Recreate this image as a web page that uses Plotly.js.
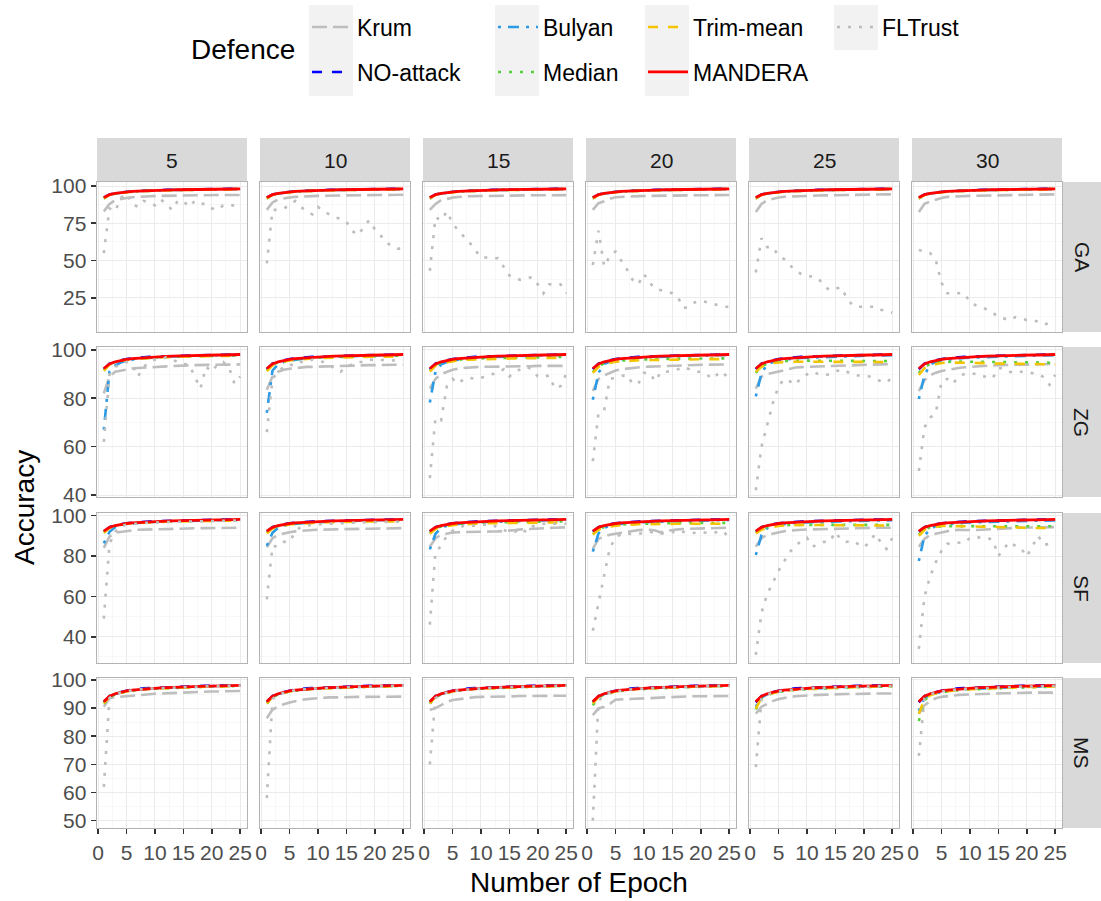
<!DOCTYPE html>
<html><head><meta charset="utf-8">
<script src="https://cdn.plot.ly/plotly-3.0.1.min.js"></script>
<style>html,body{margin:0;padding:0;background:#fff}#chart{width:1101px;height:901px}</style>
</head><body><div id="chart"></div>
<script>
// ---------------- DATA ----------------
const epochs = [1,2,3,4,5,6,7,8,9,10,11,12,13,14,15,16,17,18,19,20,21,22,23,24,25];
const attacks = ['GA','ZG','SF','MS'];
const attackerCounts = ['5','10','15','20','25','30'];
const defences = ['Krum','NO-attack','Bulyan','Median','Trim-mean','MANDERA','FLTrust'];

const noAttack = [92.0,94.3,95.2,95.8,96.2,96.5,96.8,97.0,97.1,97.2,97.3,97.4,97.5,97.6,97.6,97.7,97.8,97.8,97.9,97.9,98.0,98.0,98.1,98.1,98.2];
const mandera  = [92.3,94.2,95.1,95.7,96.1,96.4,96.6,96.8,97.0,97.1,97.2,97.3,97.4,97.5,97.5,97.6,97.7,97.7,97.8,97.8,97.9,97.9,98.0,98.0,98.1];
const bulyanTop = [91.8,94.1,95.0,95.6,96.0,96.3,96.6,96.8,96.9,97.0,97.1,97.2,97.3,97.4,97.5,97.5,97.6,97.7,97.7,97.8,97.8,97.9,97.9,98.0,98.0];
const medianTop = [91.6,93.9,94.9,95.5,95.9,96.2,96.5,96.7,96.8,96.9,97.0,97.1,97.2,97.3,97.4,97.4,97.5,97.6,97.6,97.7,97.7,97.8,97.8,97.9,97.9];
const trimTop   = [91.7,94.0,95.0,95.5,95.9,96.2,96.5,96.7,96.8,96.9,97.0,97.1,97.2,97.3,97.3,97.4,97.5,97.5,97.6,97.7,97.7,97.8,97.8,97.8,97.9];

// GA
const krumGA = [
 [83.0,88.0,90.5,91.5,92.0,92.5,92.8,93.0,93.2,93.3,93.4,93.5,93.6,93.7,93.7,93.8,93.8,93.9,93.9,94.0,94.0,94.0,94.0,94.0,94.0],
 [84.0,89.0,91.0,91.8,92.3,92.7,93.0,93.2,93.3,93.4,93.5,93.6,93.6,93.7,93.7,93.8,93.8,93.9,93.9,94.0,94.0,94.0,94.1,94.1,94.1],
 [84.0,88.0,90.5,91.5,92.2,92.6,93.0,93.1,93.2,93.3,93.3,93.4,93.5,93.5,93.6,93.6,93.7,93.7,93.8,93.8,93.8,93.8,93.9,93.9,93.9],
 [84.0,88.5,89.7,91.5,92.5,92.8,93.0,93.1,93.2,93.3,93.4,93.5,93.5,93.6,93.6,93.7,93.7,93.8,93.8,93.8,93.9,93.9,93.9,94.0,94.0],
 [82.5,88.0,90.5,91.5,92.3,92.8,93.0,93.2,93.3,93.4,93.5,93.6,93.7,93.8,93.8,93.9,94.0,94.0,94.1,94.2,94.2,94.3,94.3,94.4,94.4],
 [82.5,88.0,89.7,91.0,92.0,92.7,93.0,93.2,93.3,93.4,93.5,93.6,93.7,93.8,93.8,93.9,94.0,94.0,94.1,94.2,94.2,94.3,94.3,94.4,94.4]
];
const fltrustGA = [
 [55,85,83,92,95,88,86,90,89,87,91,88,84,90,90,86,90,88,88,85,84,87,87,87,88],
 [48,84,84,85,87,90,86,83,81,86,83,81,79,78,76,70,67,72,77,71,67,62,60,58,58],
 [43,79,77,83,75,70,66,62,57,52,52,51.5,51.6,46,40,38,37,38,38.8,34,28,34,34,34,28],
 [47,70,46,53,56,50,44,37,34,41,35,31,30,29,28,25,18,19,22,23,22,21,20,19,19],
 [42,65,59,59,53,51,47,43,41,40,39,38,33,30,31,32,25,20,19,19,19,19,17,16,15],
 [57,56,55,50,35,28,28,28,28,22,20,19,17,15,12,11,10,12,11,10,10,9,7,8,9]
];
const bulyanGA = [bulyanTop,bulyanTop,bulyanTop,bulyanTop,bulyanTop,bulyanTop];
const medianGA = [medianTop,medianTop,medianTop,medianTop,medianTop,medianTop];
const trimGA   = [trimTop,trimTop,trimTop,trimTop,trimTop,trimTop];

// ZG
const krumZG = [
 [82.0,89.0,91.0,91.5,92.0,92.3,92.5,92.7,92.8,93.0,93.0,93.2,93.3,93.5,93.5,93.6,93.7,93.7,93.8,93.8,94.0,94.0,94.0,94.0,94.0],
 [83.5,89.0,91.0,91.8,92.2,92.5,92.8,93.0,93.0,93.1,93.2,93.3,93.3,93.4,93.5,93.5,93.6,93.6,93.7,93.7,93.8,93.8,93.8,93.9,93.9],
 [84.0,88.0,90.0,91.0,91.8,92.3,92.6,92.8,92.9,93.0,93.0,93.1,93.1,93.2,93.2,93.3,93.3,93.3,93.3,93.4,93.4,93.4,93.4,93.4,93.4],
 [83.0,88.0,89.5,90.5,91.5,92.0,92.3,92.6,92.8,93.0,93.1,93.2,93.3,93.3,93.4,93.5,93.6,93.7,93.8,93.8,93.9,93.9,94.0,94.0,94.0],
 [84.0,89.0,90.0,90.6,91.0,91.8,92.4,92.7,92.9,93.0,93.1,93.2,93.3,93.4,93.5,93.6,93.7,93.8,93.8,93.9,94.0,94.0,94.1,94.1,94.2],
 [83.0,87.5,89.5,90.6,91.3,91.8,92.2,92.5,92.8,93.0,93.3,93.4,93.5,93.6,93.7,93.8,93.8,93.8,93.9,93.9,94.0,94.0,94.1,94.1,94.2]
];
const fltrustZG = [
 [62,90,93,94,95,94,89,93,95,96,96,97,96,95,94,94,89,84,93,91,94,95,93,86,89],
 [66,88,91,93,94,93.4,95,95,96,95.5,95,94,92,91,93,94,95,95,96,95.8,96,95.5,95.5,95.7,95.8],
 [47,72,71,85,88,86,88,88.5,88,88.5,89,90,90.4,92,89,91,92,93,92,89,89,89.4,84,85,90],
 [54,74,75,88,88.6,89,89.7,86,86,90.5,90.5,87,91,91,91.6,92,93,92,91,91,90,88,90,91,86.5],
 [42,60,69,78,85,88,87,85.6,88.7,90,91,90,89.4,90,91,92,91,90,89.4,89.4,89,88.3,87,86.5,88.7],
 [50,68,72,74,87,88,86,89,90,90.4,90,89,89,88.3,92.4,92.4,91,90.4,91,91,90.4,90,88.7,85.6,89.7]
];
const bulyanZG = [
 [67.0,91.0,93.5,94.8,95.5,96.0,96.4,96.6,96.8,97.0,97.1,97.2,97.3,97.4,97.4,97.5,97.6,97.6,97.7,97.7,97.8,97.8,97.9,97.9,98.0],
 [74.0,91.5,94.0,95.0,95.6,96.0,96.3,96.6,96.8,97.0,97.1,97.2,97.3,97.3,97.4,97.5,97.5,97.6,97.7,97.7,97.8,97.8,97.9,97.9,97.9],
 [78.3,91.0,94.0,95.0,95.6,96.0,96.4,96.6,96.8,96.9,97.0,97.1,97.2,97.3,97.4,97.5,97.6,97.6,97.7,97.7,97.8,97.8,97.9,97.9,98.0],
 [79.4,90.5,94.2,95.2,95.7,96.1,96.4,96.6,96.8,96.9,97.0,97.1,97.2,97.3,97.4,97.5,97.5,97.6,97.6,97.7,97.7,97.8,97.8,97.9,97.9],
 [80.8,90.5,94.0,95.0,95.6,96.0,96.3,96.5,96.7,96.8,96.9,97.0,97.1,97.2,97.3,97.4,97.4,97.5,97.5,97.6,97.6,97.7,97.7,97.8,97.8],
 [79.7,89.5,94.0,95.0,95.6,96.0,96.3,96.5,96.7,96.8,96.9,97.0,97.1,97.2,97.3,97.4,97.4,97.5,97.5,97.6,97.6,97.7,97.7,97.8,97.8]
];
const medianZG = [
 [91.5,94.0,95.0,95.6,96.0,96.3,96.5,96.7,96.8,96.9,97.0,97.1,97.2,97.2,97.3,97.3,97.4,97.4,97.5,97.5,97.5,97.6,97.6,97.6,97.7],
 [91.3,93.8,94.8,95.4,95.8,96.1,96.4,96.6,96.7,96.8,96.9,97.0,97.1,97.1,97.2,97.3,97.3,97.4,97.4,97.4,97.5,97.5,97.5,97.6,97.6],
 [91.2,93.7,94.7,95.2,95.6,95.9,96.1,96.3,96.4,96.5,96.6,96.6,96.7,96.7,96.8,96.8,96.8,96.9,96.9,96.9,97.0,97.0,97.0,97.0,97.1],
 [90.8,93.3,94.4,95.0,95.3,95.6,95.8,95.9,96.0,96.1,96.1,96.2,96.2,96.3,96.3,96.3,96.4,96.4,96.4,96.4,96.5,96.5,96.5,96.5,96.5],
 [90.5,93.2,94.3,94.9,95.2,95.4,95.5,95.5,95.6,95.6,95.6,95.5,95.5,95.5,95.5,95.5,95.5,95.5,95.5,95.4,95.4,95.4,95.4,95.4,95.4],
 [90.4,93.0,94.2,94.8,95.0,95.1,95.2,95.2,95.2,95.1,95.1,95.0,95.0,95.0,95.0,94.9,94.9,94.9,94.9,94.8,94.8,94.8,94.8,94.7,94.7]
];
const trimZG = [
 [91.4,93.9,94.9,95.5,95.9,96.2,96.4,96.6,96.7,96.8,96.9,97.0,97.1,97.1,97.2,97.2,97.3,97.3,97.4,97.4,97.4,97.5,97.5,97.5,97.6],
 [91.2,93.6,94.6,95.2,95.6,95.9,96.2,96.4,96.5,96.6,96.7,96.8,96.9,96.9,97.0,97.0,97.1,97.1,97.2,97.2,97.2,97.3,97.3,97.3,97.3],
 [91.0,93.5,94.5,95.0,95.4,95.7,95.9,96.0,96.1,96.2,96.3,96.3,96.4,96.4,96.5,96.5,96.5,96.6,96.6,96.6,96.7,96.7,96.7,96.8,96.8],
 [90.5,93.0,94.2,94.8,95.1,95.3,95.5,95.6,95.7,95.8,95.8,95.9,95.9,96.0,96.0,96.0,96.0,96.1,96.1,96.1,96.1,96.2,96.2,96.2,96.2],
 [91.0,93.0,94.0,94.6,94.8,95.0,95.0,95.1,95.1,95.1,95.1,95.1,95.1,95.1,95.1,95.1,95.0,95.0,95.0,95.0,95.0,95.0,95.0,95.0,95.0],
 [89.7,92.5,93.7,94.3,94.6,94.8,94.8,94.8,94.8,94.7,94.6,94.5,94.5,94.4,94.4,94.3,94.3,94.2,94.2,94.2,94.2,94.1,94.1,94.0,94.0]
];

// SF
const krumSF = [
 [84.0,89.6,91.5,92.0,92.4,92.7,93.0,93.1,93.2,93.3,93.4,93.5,93.5,93.6,93.6,93.7,93.7,93.8,93.8,93.8,93.9,93.9,94.0,94.0,94.0],
 [84.3,88.8,90.5,91.2,91.8,92.2,92.5,92.7,92.9,93.0,93.1,93.2,93.2,93.3,93.3,93.4,93.4,93.5,93.5,93.6,93.6,93.7,93.7,93.8,93.8],
 [84.6,88.8,90.5,91.2,91.6,91.8,91.8,91.9,91.9,92.0,92.0,92.1,92.2,92.3,92.5,92.8,93.2,93.4,93.6,93.7,93.8,93.9,94.0,94.1,94.2],
 [83.5,88.5,89.6,90.5,91.0,91.5,92.0,92.5,92.8,93.0,93.0,92.6,91.6,92.5,93.0,93.2,93.4,93.5,93.6,93.7,93.8,93.9,93.9,94.0,94.0],
 [84.6,88.8,90.5,91.2,91.8,92.3,92.6,92.9,93.0,93.1,93.2,93.3,93.4,93.5,93.6,93.7,93.8,93.8,93.9,93.9,94.0,94.0,94.0,94.0,94.0],
 [84.6,88.5,90.5,91.2,91.8,92.3,92.7,93.0,92.9,92.8,92.9,93.0,93.2,93.4,93.5,93.7,93.8,93.9,94.0,94.0,94.1,94.2,94.2,94.3,94.3]
];
const fltrustSF = [
 [49,86,92,95,95.5,96,96,96.3,96.5,96.5,96.7,96.8,97,97,97,97,97.2,97.2,97.3,97.3,97.4,97.5,97.5,97.6,97.6],
 [58.5,85,84.6,87,87,92,94.5,95,95.5,95.5,96,96,96,96.2,96.3,96.5,96.5,96.6,96.7,96.8,96.9,97,97,97,97],
 [46,82,85,90,92.5,94,95,95,95,95.5,95.5,95.5,94,93,91.8,92,93.8,91.8,94.5,95.5,96,96,96,96,96],
 [43,57,70,84,89,91,91,91,90.9,91.5,92,91.5,91,91.5,92,91,92,91.2,91.5,91.8,91.5,91.2,92,92.3,88.8],
 [31,52,61,67,72.7,77.5,82,85,87.5,89,84.6,86,87,87,91.9,88,87,87.5,86,84.3,86.8,91,86.8,83.5,88.8],
 [34,60,70,77,82.6,86,86.8,86.7,86.5,89,89.5,89,89,88,80,83.8,87,85,83.8,79.7,84.6,90,85.5,86,86.5]
];
const bulyanSF = [
 [86.3,92.0,94.2,95.1,95.7,96.1,96.4,96.6,96.8,96.9,97.0,97.1,97.2,97.3,97.4,97.5,97.5,97.6,97.6,97.7,97.7,97.8,97.8,97.9,97.9],
 [85.1,91.5,94.0,95.0,95.6,96.0,96.3,96.5,96.7,96.9,97.0,97.1,97.2,97.3,97.4,97.4,97.5,97.6,97.6,97.7,97.7,97.8,97.8,97.9,97.9],
 [83.3,91.0,94.0,95.0,95.6,96.0,96.3,96.5,96.7,96.8,96.9,97.0,97.1,97.2,97.3,97.4,97.4,97.5,97.5,97.6,97.6,97.7,97.7,97.8,97.8],
 [82.2,91.2,94.0,95.0,95.6,96.0,96.3,96.5,96.7,96.8,96.9,97.0,97.1,97.2,97.3,97.4,97.4,97.5,97.5,97.6,97.6,97.7,97.7,97.8,97.8],
 [80.5,90.5,93.8,94.9,95.5,95.9,96.2,96.4,96.6,96.7,96.8,96.9,97.0,97.1,97.2,97.3,97.3,97.4,97.4,97.5,97.5,97.6,97.6,97.7,97.7],
 [77.5,90.0,93.5,94.8,95.4,95.8,96.1,96.3,96.5,96.6,96.7,96.8,96.9,97.0,97.1,97.2,97.2,97.3,97.3,97.4,97.4,97.5,97.5,97.6,97.6]
];
const medianSF = [
 [91.6,94.0,95.0,95.6,96.0,96.3,96.5,96.7,96.8,96.9,97.0,97.1,97.2,97.2,97.3,97.3,97.4,97.4,97.5,97.5,97.5,97.6,97.6,97.6,97.7],
 [91.4,93.8,94.8,95.4,95.8,96.1,96.3,96.5,96.6,96.7,96.8,96.9,97.0,97.0,97.1,97.1,97.2,97.2,97.3,97.3,97.3,97.4,97.4,97.4,97.5],
 [91.3,93.6,94.6,95.2,95.6,95.9,96.1,96.3,96.4,96.5,96.6,96.6,96.7,96.7,96.8,96.8,96.9,96.9,96.9,97.0,97.0,97.0,97.0,97.1,97.1],
 [90.8,93.3,94.4,95.0,95.3,95.6,95.8,95.9,96.0,96.0,96.1,96.1,96.2,96.2,96.2,96.3,96.3,96.3,96.3,96.3,96.4,96.4,96.4,96.4,96.4],
 [91.5,93.3,94.3,94.8,95.1,95.3,95.4,95.4,95.4,95.4,95.4,95.4,95.4,95.4,95.4,95.4,95.4,95.4,95.4,95.4,95.4,95.4,95.4,95.4,95.4],
 [90.5,93.2,94.2,94.6,94.7,94.8,94.8,94.8,94.8,94.8,94.8,94.8,94.7,94.7,94.7,94.7,94.7,94.7,94.7,94.7,94.7,94.7,94.7,94.7,94.7]
];
const trimSF = [
 [91.5,93.9,94.9,95.5,95.9,96.2,96.4,96.6,96.7,96.8,96.9,97.0,97.1,97.1,97.2,97.2,97.3,97.3,97.4,97.4,97.4,97.5,97.5,97.5,97.6],
 [91.3,93.6,94.6,95.2,95.6,95.9,96.1,96.3,96.4,96.5,96.6,96.7,96.8,96.8,96.9,96.9,97.0,97.0,97.1,97.1,97.1,97.2,97.2,97.2,97.2],
 [91.0,93.4,94.4,95.0,95.3,95.6,95.8,95.9,96.0,96.1,96.2,96.2,96.3,96.3,96.4,96.4,96.4,96.5,96.5,96.5,96.5,96.6,96.6,96.6,96.6],
 [90.6,93.0,94.1,94.7,95.0,95.3,95.5,95.6,95.7,95.7,95.8,95.8,95.9,95.9,95.9,96.0,96.0,96.0,96.0,96.0,96.0,96.0,96.0,96.0,96.0],
 [91.2,93.0,94.0,94.6,94.9,95.1,95.3,95.4,95.4,95.4,95.4,95.4,95.4,95.3,95.3,95.3,95.3,95.2,95.2,95.2,95.1,95.1,95.1,95.0,95.0],
 [90.0,93.0,94.2,94.7,94.9,94.9,94.9,94.9,94.8,94.7,94.6,94.5,94.4,94.3,94.3,94.2,94.2,94.1,94.0,94.0,93.9,93.9,93.8,93.8,93.8]
];

// MS
const krumMS = [
 [90.5,93.5,93.9,94.1,94.3,94.5,94.7,94.9,95.0,95.1,95.2,95.3,95.4,95.5,95.6,95.7,95.7,95.8,95.8,95.9,95.9,96.0,96.0,96.0,96.1],
 [86.4,89.5,90.5,91.4,92.0,92.5,92.9,93.2,93.4,93.6,93.7,93.8,93.8,93.9,93.9,94.0,94.0,94.0,94.0,94.1,94.1,94.1,94.1,94.0,94.1],
 [89.3,90.0,91.1,92.2,92.9,93.2,93.5,93.7,93.9,94.0,94.0,94.1,94.1,94.2,94.2,94.2,94.3,94.3,94.3,94.3,94.4,94.4,94.4,94.4,94.4],
 [87.5,89.9,90.5,91.5,93.0,93.1,93.1,93.2,93.4,93.6,93.7,93.8,93.9,94.0,94.0,94.1,94.1,94.2,94.2,94.2,94.3,94.3,94.3,94.3,94.3],
 [88.0,90.5,91.5,92.5,93.2,93.7,94.0,94.2,94.4,94.5,94.6,94.7,94.8,94.9,94.9,95.0,95.0,95.0,95.1,95.1,95.1,95.2,95.2,95.2,95.2],
 [88.0,91.0,92.5,93.5,94.0,94.3,94.5,94.7,94.8,94.9,95.0,95.1,95.1,95.2,95.2,95.3,95.3,95.4,95.4,95.4,95.5,95.5,95.5,95.5,95.5]
];
const fltrustMS = [
 [62,93.6,95.0,95.6,96.0,96.3,96.6,96.8,96.9,97.0,97.1,97.2,97.3,97.4,97.5,97.5,97.6,97.7,97.7,97.8,97.8,97.9,97.9,98.0,98.0],
 [58,93.2,94.9,95.5,96.0,96.3,96.6,96.8,96.9,97.0,97.1,97.2,97.3,97.4,97.4,97.5,97.6,97.6,97.7,97.7,97.8,97.8,97.9,97.9,98.0],
 [70,93.5,95.0,95.6,96.0,96.3,96.5,96.7,96.9,97.0,97.1,97.2,97.3,97.4,97.4,97.5,97.6,97.6,97.7,97.7,97.8,97.8,97.9,97.9,98.0],
 [50,92.5,94.8,95.5,95.9,96.2,96.5,96.7,96.8,97.0,97.1,97.2,97.3,97.3,97.4,97.5,97.5,97.6,97.7,97.7,97.8,97.8,97.9,97.9,97.9],
 [69,93.3,94.9,95.5,96.0,96.3,96.5,96.7,96.9,97.0,97.1,97.2,97.2,97.3,97.4,97.5,97.5,97.6,97.6,97.7,97.7,97.8,97.8,97.9,97.9],
 [73,93.4,94.9,95.5,95.9,96.2,96.5,96.7,96.8,96.9,97.0,97.1,97.2,97.3,97.4,97.4,97.5,97.6,97.6,97.7,97.7,97.8,97.8,97.9,97.9]
];
const bulyanMS25 = [90.5,93.8,94.9,95.5,95.9,96.2,96.5,96.7,96.8,96.9,97.0,97.1,97.2,97.3,97.4,97.4,97.5,97.6,97.6,97.7,97.7,97.8,97.8,97.9,97.9];
const bulyanMS30 = [89.0,93.5,94.8,95.4,95.8,96.1,96.4,96.6,96.7,96.8,96.9,97.0,97.1,97.2,97.3,97.3,97.4,97.5,97.5,97.6,97.6,97.7,97.7,97.8,97.8];
const medianMS20 = [91.0,93.8,94.8,95.4,95.8,96.1,96.4,96.6,96.7,96.8,96.9,97.0,97.1,97.2,97.3,97.3,97.4,97.5,97.5,97.6,97.6,97.7,97.7,97.8,97.8];
const medianMS25 = [89.5,93.5,94.7,95.3,95.7,96.0,96.3,96.5,96.6,96.7,96.8,96.9,97.0,97.1,97.2,97.2,97.3,97.4,97.4,97.5,97.5,97.6,97.6,97.7,97.7];
const medianMS30 = [85.4,92.8,94.5,95.2,95.6,95.9,96.2,96.4,96.5,96.6,96.7,96.8,96.9,97.0,97.1,97.1,97.2,97.3,97.3,97.4,97.4,97.5,97.5,97.6,97.6];
const trimMS25 = [89.8,93.6,94.8,95.4,95.8,96.1,96.4,96.6,96.7,96.8,96.9,97.0,97.1,97.2,97.2,97.3,97.4,97.4,97.5,97.6,97.6,97.7,97.7,97.7,97.8];
const trimMS30 = [88.0,93.2,94.6,95.3,95.7,96.0,96.3,96.5,96.6,96.7,96.8,96.9,97.0,97.1,97.1,97.2,97.3,97.3,97.4,97.5,97.5,97.6,97.6,97.6,97.7];
const bulyanMS = [bulyanTop,bulyanTop,bulyanTop,bulyanTop,bulyanMS25,bulyanMS30];
const medianMS = [medianTop,medianTop,medianTop,medianMS20,medianMS25,medianMS30];
const trimMS   = [trimTop,trimTop,trimTop,trimTop,trimMS25,trimMS30];

// lookup table built from the arrays above
const allCols = v => [v,v,v,v,v,v];
const table = {
  GA: {'Krum':krumGA,'NO-attack':allCols(noAttack),'Bulyan':bulyanGA,'Median':medianGA,'Trim-mean':trimGA,'MANDERA':allCols(mandera),'FLTrust':fltrustGA},
  ZG: {'Krum':krumZG,'NO-attack':allCols(noAttack),'Bulyan':bulyanZG,'Median':medianZG,'Trim-mean':trimZG,'MANDERA':allCols(mandera),'FLTrust':fltrustZG},
  SF: {'Krum':krumSF,'NO-attack':allCols(noAttack),'Bulyan':bulyanSF,'Median':medianSF,'Trim-mean':trimSF,'MANDERA':allCols(mandera),'FLTrust':fltrustSF},
  MS: {'Krum':krumMS,'NO-attack':allCols(noAttack),'Bulyan':bulyanMS,'Median':medianMS,'Trim-mean':trimMS,'MANDERA':allCols(mandera),'FLTrust':fltrustMS}
};

// ---------------- STYLE / LAYOUT ----------------
const W = 1101, H = 901;
const FONT = 'Liberation Sans, Arial, Helvetica, sans-serif';
const styles = {
  'Krum':      {color:'#bebebe', dash:'15px,6px', width:2.6},
  'NO-attack': {color:'#0000ff', dash:'10px,10px', width:2.6},
  'Bulyan':    {color:'#2b9be6', dash:'3px,7px,11px,7px', width:2.6},
  'Median':    {color:'#55d13f', dash:'3px,8px', width:2.6},
  'Trim-mean': {color:'#f5c400', dash:'10px,10px', width:2.6},
  'MANDERA':   {color:'#ff0000', dash:'solid', width:2.8},
  'FLTrust':   {color:'#bdbdbd', dash:'3px,8px', width:2.6}
};
const colLeft = [97,260,423,586,749,912];
const panelW = 150;
const rowTop = [182,347,513,678];
const panelH = 150;
const yRanges = [[2.0,102.7],[39.2,101.2],[27.0,101.3],[47.4,100.7]];
const yDtick = [25,20,20,10];
const xRange = [-0.2,26.2];

const px = x => x / W;
const py = y => 1 - y / H;

const traces = [];
const layout = {
  width: W, height: H,
  margin: {l:0, r:0, t:0, b:0},
  paper_bgcolor: '#ffffff', plot_bgcolor: '#ffffff',
  font: {family: FONT, size: 21, color: '#1a1a1a'},
  shapes: [], annotations: []
};

const legendNames = {'Krum':'legend','NO-attack':'legend2','Bulyan':'legend3','Median':'legend4','Trim-mean':'legend5','MANDERA':'legend6','FLTrust':'legend7'};
const legendSpots = {'Krum':[309,27],'NO-attack':[309,72],'Bulyan':[495,27],'Median':[495,72],'Trim-mean':[645,27],'MANDERA':[645,72],'FLTrust':[834,27]};

attacks.forEach((att, r) => {
  attackerCounts.forEach((cnt, c) => {
    const n = r * 6 + c + 1;
    const xs = n === 1 ? '' : String(n);
    const xa = 'xaxis' + xs, ya = 'yaxis' + xs;
    const bottomRow = r === attacks.length - 1, firstCol = c === 0;
    layout[xa] = {
      domain: [px(colLeft[c]), px(colLeft[c] + panelW)], anchor: 'y' + xs,
      range: xRange, tickmode: 'linear', tick0: 0, dtick: 5, tickangle: 0,
      showticklabels: bottomRow, ticks: bottomRow ? 'outside' : '', ticklen: 5, tickwidth: 1.6, tickcolor: '#333333',
      tickfont: {family: FONT, size: 21, color: '#4d4d4d'},
      showgrid: true, gridcolor: '#ebebeb', gridwidth: 1,
      minor: {dtick: 2.5, tick0: 0, showgrid: true, gridcolor: '#f3f3f3', gridwidth: 0.6},
      showline: true, mirror: true, linecolor: '#b3b3b3', linewidth: 1.4,
      zeroline: false, fixedrange: true
    };
    layout[ya] = {
      domain: [py(rowTop[r] + panelH), py(rowTop[r])], anchor: 'x' + xs,
      range: yRanges[r], tickmode: 'linear', tick0: 0, dtick: yDtick[r],
      showticklabels: firstCol, ticks: firstCol ? 'outside' : '', ticklen: 5, tickwidth: 1.6, tickcolor: '#333333',
      tickfont: {family: FONT, size: 21, color: '#4d4d4d'},
      showgrid: true, gridcolor: '#ebebeb', gridwidth: 1,
      minor: {dtick: yDtick[r] / 2, tick0: 0, showgrid: true, gridcolor: '#f3f3f3', gridwidth: 0.6},
      showline: true, mirror: true, linecolor: '#b3b3b3', linewidth: 1.4,
      zeroline: false, fixedrange: true
    };
    defences.forEach(d => {
      const st = styles[d];
      traces.push({
        type: 'scatter', mode: 'lines', name: d,
        x: epochs, y: table[att][d][c],
        xaxis: 'x' + xs, yaxis: 'y' + xs,
        line: {color: st.color, width: st.width, dash: st.dash},
        showlegend: n === 1, legend: legendNames[d], legendgroup: d,
        hoverinfo: 'skip'
      });
    });
  });
});

// facet strips
attackerCounts.forEach((cnt, c) => {
  layout.shapes.push({type:'rect', xref:'paper', yref:'paper', x0:px(colLeft[c]), x1:px(colLeft[c]+panelW), y0:py(181), y1:py(138), fillcolor:'#d9d9d9', line:{width:0}, layer:'below'});
  layout.annotations.push({xref:'paper', yref:'paper', x:px(colLeft[c]+panelW/2), y:py(160), text:cnt, showarrow:false, xanchor:'center', yanchor:'middle', font:{family:FONT, size:21, color:'#1a1a1a'}});
});
attacks.forEach((att, r) => {
  layout.shapes.push({type:'rect', xref:'paper', yref:'paper', x0:px(1063), x1:px(1101), y0:py(rowTop[r]+panelH), y1:py(rowTop[r]), fillcolor:'#d9d9d9', line:{width:0}, layer:'below'});
  layout.annotations.push({xref:'paper', yref:'paper', x:px(1082), y:py(rowTop[r]+panelH/2), text:att, showarrow:false, textangle:90, xanchor:'center', yanchor:'middle', font:{family:FONT, size:21, color:'#1a1a1a'}});
});

// axis titles
layout.annotations.push({xref:'paper', yref:'paper', x:px(579), y:py(882), text:'Number of Epoch', showarrow:false, xanchor:'center', yanchor:'middle', font:{family:FONT, size:28, color:'#000000'}});
layout.annotations.push({xref:'paper', yref:'paper', x:px(25), y:py(508), text:'Accuracy', showarrow:false, textangle:-90, xanchor:'center', yanchor:'middle', font:{family:FONT, size:28, color:'#000000'}});

// legend
layout.annotations.push({xref:'paper', yref:'paper', x:px(243), y:py(50), text:'Defence', showarrow:false, xanchor:'center', yanchor:'middle', font:{family:FONT, size:28, color:'#000000'}});
const keyCols = [[309,96],[495,96],[645,96],[834,50]];
keyCols.forEach(k => {
  layout.shapes.push({type:'rect', xref:'paper', yref:'paper', x0:px(k[0]), x1:px(k[0]+44), y0:py(k[1]), y1:py(5), fillcolor:'#f2f2f2', line:{width:0}, layer:'below'});
});
defences.forEach(d => {
  const sp = legendSpots[d];
  layout[legendNames[d]] = {
    x: px(sp[0] - 2), y: py(sp[1]), xanchor: 'left', yanchor: 'middle',
    orientation: 'v', bgcolor: 'rgba(0,0,0,0)', borderwidth: 0, itemwidth: 40,
    font: {family: FONT, size: 23, color: '#000000'}, itemclick: false, itemdoubleclick: false
  };
});

Plotly.newPlot('chart', traces, layout, {displayModeBar: false, staticPlot: true});
</script></body></html>
